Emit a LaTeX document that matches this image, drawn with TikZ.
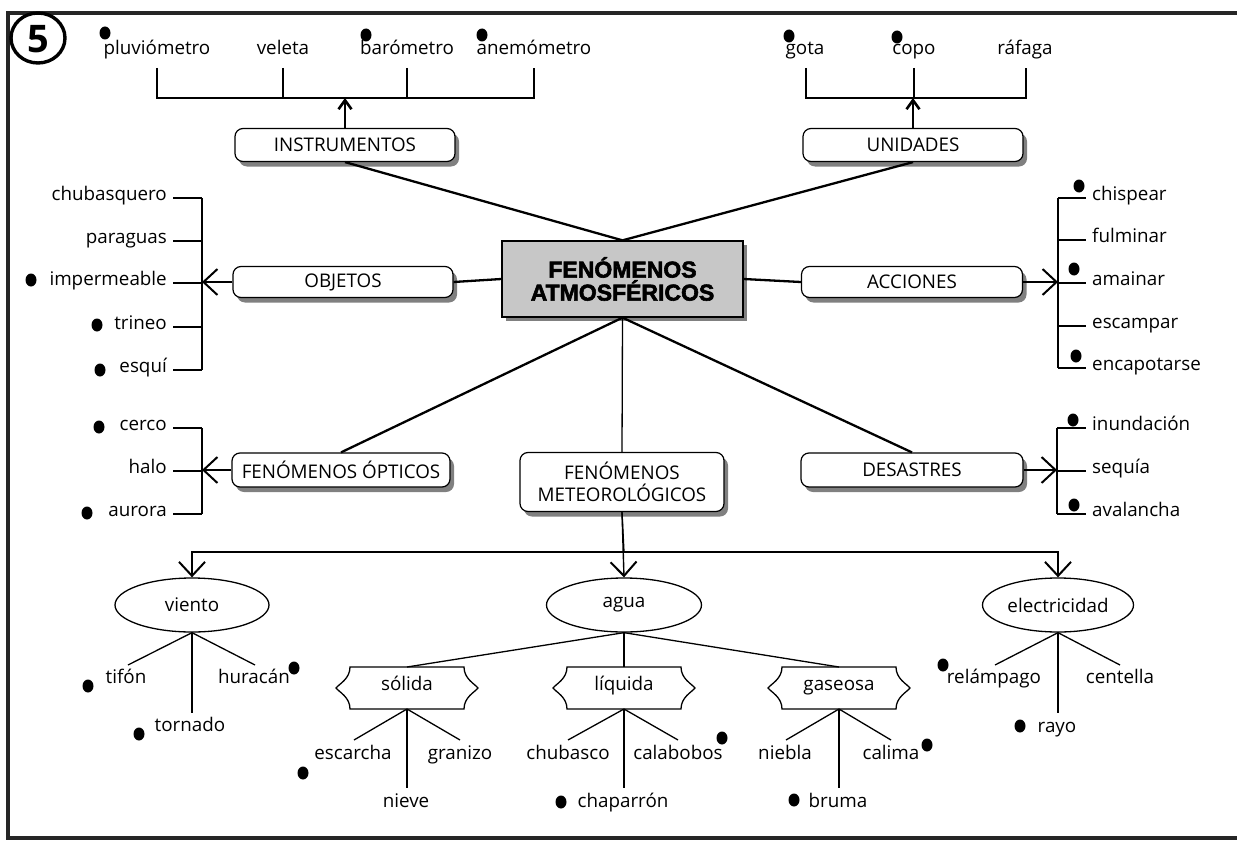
\documentclass[tikz,border=0pt]{standalone}
\usepackage{fontspec}
\setmainfont{Open Sans}
\newfontfamily\heavy{Liberation Sans}[BoldFeatures={FakeBold=2.5}]
\usetikzlibrary{arrows.meta,shapes.geometric,shadows}
\newcommand{\scrollpath}[3]{%
  \draw[scrl] ({#1-71+14},{#2-21}) -- ({#1+71-14},{#2-21})
    .. controls ({#1+71-14},{#2-21+12}) and ({#1+71-3},{#2-4}) .. ({#1+71},{#2})
    .. controls ({#1+71-3},{#2+4}) and ({#1+71-14},{#2+21-12}) .. ({#1+71-14},{#2+21})
    -- ({#1-71+14},{#2+21})
    .. controls ({#1-71+14},{#2+21-12}) and ({#1-71+3},{#2+4}) .. ({#1-71},{#2})
    .. controls ({#1-71+3},{#2-4}) and ({#1-71+14},{#2-21+12}) .. cycle;}
\begin{document}
\begin{tikzpicture}[x=1pt,y=-1pt,
  txt/.style={font=\fontsize{18.8}{20}\selectfont, inner sep=0pt, anchor=mid},
  txtr/.style={txt, anchor=mid east},
  txtl/.style={txt, anchor=mid west},
  rbox/.style={draw, line width=1.2pt, rounded corners=8pt, fill=white,
     font=\fontsize{18.8}{22}\selectfont, align=center, inner sep=0pt,
     drop shadow={shadow xshift=4pt, shadow yshift=-5pt, fill=black!50, opacity=1}},
  ell/.style={draw, ellipse, line width=1.3pt, inner sep=0pt, font=\fontsize{18.8}{20}\selectfont},
  scrl/.style={draw, line width=1.3pt},
  conn/.style={line width=2.3pt},
  thinl/.style={line width=1.3pt},
  brk/.style={line width=1.3pt},
  bigarr/.style={line width=1.4pt, -{Straight Barb[length=14pt,width=26pt,line width=2pt]}},
  uparr/.style={line width=2.2pt, -{Straight Barb[length=9pt,width=13pt,line width=2.6pt]}},
  dot/.style={fill=black, ellipse, inner sep=0pt, minimum width=11pt, minimum height=13pt}
]
\useasboundingbox (0,0) rectangle (1237,843);
\fill[white] (0,0) rectangle (1237,843);
% frame
\draw[line width=3.5pt, black!85] (1237,13) -- (8,13) -- (8,838) -- (1237,838);
% number
\draw[line width=3.4pt] (38,38) ellipse [x radius=27pt, y radius=25pt];
\node[font=\fontsize{38}{38}\selectfont\bfseries, inner sep=0pt] (num) at (38,39) {5};

% central
\node[draw, line width=1.3pt, fill=black!22, minimum width=241pt, minimum height=76pt,
      inner sep=0pt, align=center,
      drop shadow={shadow xshift=4pt, shadow yshift=-4pt, fill=black!50, opacity=1},
      font=\heavy\bfseries\fontsize{23}{23}\selectfont] (main) at (622.5,279) {FENÓMENOS\\ATMOSFÉRICOS};

% boxes
\node[rbox, minimum width=220pt, minimum height=33pt] (instr) at (345,145) {INSTRUMENTOS};
\node[rbox, minimum width=220pt, minimum height=33pt] (unid) at (913,145) {UNIDADES};
\node[rbox, minimum width=220pt, minimum height=31pt] (obj) at (343,282) {OBJETOS};
\node[rbox, minimum width=221pt, minimum height=31pt] (acc) at (912,282) {ACCIONES};
\node[rbox, minimum width=218pt, minimum height=34pt] (opt) at (341,470) {FENÓMENOS ÓPTICOS};
\node[rbox, minimum width=222pt, minimum height=34pt] (des) at (912,470) {DESASTRES};
\node[rbox, minimum width=204pt, minimum height=59pt] (met) at (622,482) {FENÓMENOS\\METEOROLÓGICOS};

% main connectors
\draw[conn] (main.north) -- (instr.south);
\draw[conn] (main.north) -- (unid.south);
\draw[conn] (main.west) -- (obj.east);
\draw[conn] (main.east) -- (acc.west);
\draw[conn] (main.south) -- (opt.north);
\draw[conn] (main.south) -- (des.north);
\draw[thinl] (main.south) -- (met.north);

% top left instruments
\node[txt] (pluv) at (157,52) {pluviómetro};
\node[txt] (vel) at (283,52) {veleta};
\node[txt] (baro) at (407,52) {barómetro};
\node[txt] (anem) at (534,52) {anemómetro};
\coordinate (ib) at (345,98);
\draw[brk] (157,68) -- (157,98) -- (534,98) -- (534,68);
\draw[brk] (283,68) -- (283,98);
\draw[brk] (407,68) -- (407,98);
\draw[uparr] (instr.north) -- (ib);

% top right units
\node[txt] (gota) at (805,52) {gota};
\node[txt] (copo) at (914,52) {copo};
\node[txt] (raf) at (1025,52) {ráfaga};
\coordinate (ub) at (913,98);
\draw[brk] (806,68) -- (806,98) -- (1026,98) -- (1026,68);
\draw[brk] (914,68) -- (914,98);
\draw[uparr] (unid.north) -- (ub);

% objetos
\foreach \t/\y/\n in {chubasquero/198/o1, paraguas/241/o2, impermeable/283/o3, trineo/327/o4, esquí/370/o5}{
  \node[txtr] (\n) at (167,\y) {\t};
  \draw[brk] (173,\y) -- (202,\y);
}
\draw[brk] (202,198) -- (202,370);
\coordinate (ob) at (202,282);
\draw[bigarr] (obj.west) -- (ob);

% acciones
\foreach \t/\y/\n in {chispear/198/a1, fulminar/240/a2, amainar/283/a3, escampar/326/a4, encapotarse/368/a5}{
  \node[txtl] (\n) at (1092,\y) {\t};
  \draw[brk] (1058,\y) -- (1086,\y);
}
\draw[brk] (1058,198) -- (1058,368);
\coordinate (ab) at (1058,282);
\draw[bigarr] (acc.east) -- (ab);

% opticos
\foreach \t/\y/\n in {cerco/428/p1, halo/471/p2, aurora/514/p3}{
  \node[txtr] (\n) at (167,\y) {\t};
  \draw[brk] (173,\y) -- (202,\y);
}
\draw[brk] (202,428) -- (202,514);
\coordinate (pb) at (202,470);
\draw[bigarr] (opt.west) -- (pb);

% desastres
\foreach \t/\y/\n in {inundación/428/d1, sequía/471/d2, avalancha/514/d3}{
  \node[txtl] (\n) at (1092,\y) {\t};
  \draw[brk] (1057,\y) -- (1086,\y);
}
\draw[brk] (1057,428) -- (1057,514);
\coordinate (db) at (1057,470);
\draw[bigarr] (des.east) -- (db);

% meteorologicos
\node[ell, minimum width=154pt, minimum height=54pt] (viento) at (192,605) {viento};
\node[ell, minimum width=155pt, minimum height=54pt] (agua) at (624,605) {agua};
\node[ell, minimum width=151pt, minimum height=54pt] (elec) at (1058,605) {electricidad};
\coordinate (hj) at (624,552);
\draw[thinl] (met.south) -- (hj);
\draw[bigarr] (met.south) -- (agua.north);
\draw[bigarr] (hj) -| (viento.north);
\draw[bigarr] (hj) -| (elec.north);

% viento
\node[txt] (tifon) at (126,681) {tifón};
\node[txt] (hura) at (254,681) {huracán};
\node[txt] (torn) at (190,729) {tornado};
\draw[thinl] (viento.south) -- (128,665);
\draw[thinl] (viento.south) -- (255,665);
\draw[thinl] (viento.south) -- (192,713);

% electricidad
\node[txt] (rela) at (994,681) {relámpago};
\node[txt] (cent) at (1120,681) {centella};
\node[txt] (rayo) at (1057,730) {rayo};
\draw[thinl] (elec.south) -- (995,665);
\draw[thinl] (elec.south) -- (1120,665);
\draw[thinl] (elec.south) -- (1058,713);

% scrolls
\scrollpath{407}{688}{s}
\scrollpath{624}{688}{l}
\scrollpath{839}{688}{g}
\node[txt] (sol) at (407,688) {sólida};
\node[txt] (liq) at (624,688) {líquida};
\node[txt] (gas) at (839,688) {gaseosa};
\coordinate (solN) at (407,667); \coordinate (solS) at (407,709);
\coordinate (liqN) at (624,667); \coordinate (liqS) at (624,709);
\coordinate (gasN) at (839,667); \coordinate (gasS) at (839,709);
\draw[thinl] (agua.south) -- (solN);
\draw[thinl] (agua.south) -- (liqN);
\draw[thinl] (agua.south) -- (gasN);

\node[txt] (esc) at (353,757) {escarcha};
\node[txt] (gra) at (460,757) {granizo};
\node[txt] (nie) at (406,805) {nieve};
\draw[thinl] (solS) -- (354,740);
\draw[thinl] (solS) -- (460,740);
\draw[thinl] (solS) -- (407,788);

\node[txt] (chub) at (568,757) {chubasco};
\node[txt] (cala) at (678,757) {calabobos};
\node[txt] (chap) at (623,805) {chaparrón};
\draw[thinl] (liqS) -- (568,740);
\draw[thinl] (liqS) -- (678,740);
\draw[thinl] (liqS) -- (624,788);

\node[txt] (nieb) at (785,757) {niebla};
\node[txt] (cali) at (891,757) {calima};
\node[txt] (brum) at (838,805) {bruma};
\draw[thinl] (gasS) -- (786,740);
\draw[thinl] (gasS) -- (891,740);
\draw[thinl] (gasS) -- (839,788);

% bullets
\foreach \x/\y in {105/33, 366/35, 482/35, 789/36, 897/37,
  31/280, 97/325, 100/370, 99/427, 87/513,
  1079/186, 1074/269, 1076/356, 1073/420, 1074/505,
  88/686, 294/668, 139/734, 303/773, 722/738, 561/802, 927/745, 794/800, 943/665, 1020/726}
  \node[dot] at (\x,\y) {};
\end{tikzpicture}
\end{document}
